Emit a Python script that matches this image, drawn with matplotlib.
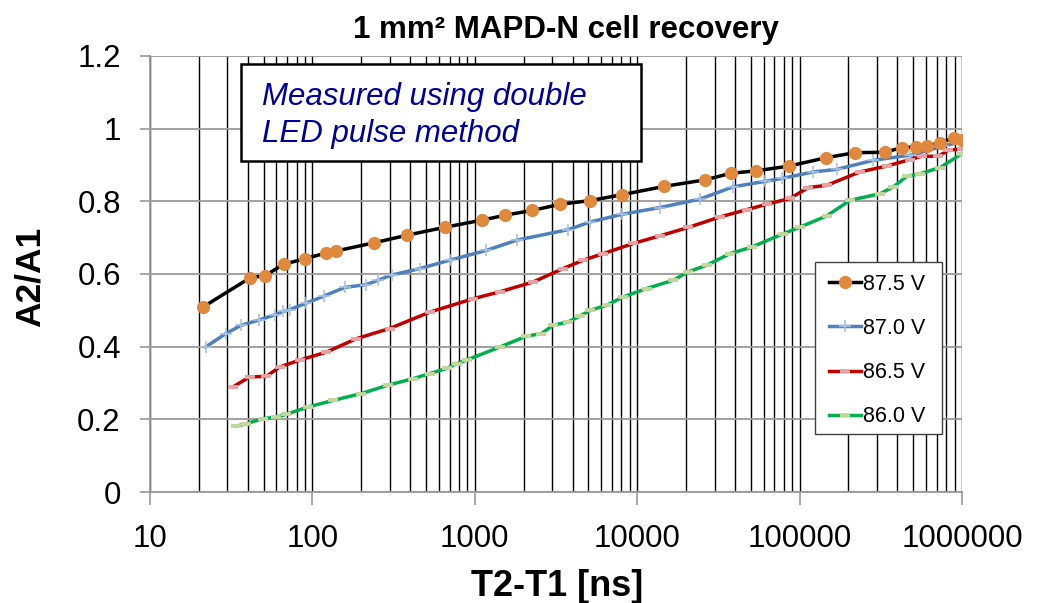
import matplotlib
matplotlib.use("Agg")
import matplotlib.pyplot as plt
from matplotlib.patches import Rectangle
from matplotlib.ticker import LogLocator, FixedLocator, NullFormatter, FixedFormatter

plt.rcParams["font.family"] = ["Liberation Sans", "DejaVu Sans"]

# ---- data -------------------------------------------------------------
x_875 = [21.2, 41.5, 50.8, 66.8, 89.8, 122, 139, 240, 385, 660, 1100, 1545,
         2255, 3370, 5120, 8020, 14600, 26100, 37600, 53900, 86000, 145500,
         219500, 335700, 425000, 521000, 606000, 732000, 894000, 997000]
y_875 = [0.509, 0.590, 0.595, 0.627, 0.642, 0.658, 0.663, 0.686, 0.707, 0.729,
         0.748, 0.762, 0.775, 0.792, 0.802, 0.818, 0.841, 0.859, 0.877, 0.884,
         0.897, 0.920, 0.934, 0.935, 0.948, 0.950, 0.952, 0.961, 0.975, 0.970]

x_870 = [22, 29.3, 36.5, 46.7, 59, 65.9, 72.5, 91.8, 117.5, 158, 215, 254, 307,
         459, 702, 1180, 1807, 3750, 5120, 8020, 13800, 24300, 39000, 61300,
         77600, 121600, 169400, 284700, 478600, 767000, 972000]
y_870 = [0.399, 0.436, 0.459, 0.473, 0.488, 0.497, 0.502, 0.520, 0.539, 0.563,
         0.571, 0.583, 0.597, 0.615, 0.638, 0.665, 0.693, 0.722, 0.743, 0.764,
         0.783, 0.806, 0.840, 0.855, 0.863, 0.881, 0.888, 0.913, 0.927, 0.952,
         0.963]

x_865 = [32.4, 41.1, 52, 62.8, 83.5, 122, 186.6, 299, 528, 977, 1427, 2287,
         3500, 4650, 6180, 9450, 13800, 20600, 32300, 47200, 62700, 87300,
         113300, 146900, 235500, 344000, 478600, 564700, 716000, 824000, 997000]
y_865 = [0.289, 0.317, 0.318, 0.344, 0.363, 0.385, 0.422, 0.450, 0.495, 0.532,
         0.551, 0.578, 0.615, 0.638, 0.656, 0.684, 0.705, 0.728, 0.757, 0.777,
         0.792, 0.808, 0.838, 0.844, 0.881, 0.897, 0.915, 0.924, 0.924, 0.941,
         0.944]

x_860 = [34, 39.2, 49.6, 60, 69.2, 94, 134, 200, 292, 417, 528, 670, 772, 889,
         1427, 2080, 2573, 3037, 3754, 4436, 5120, 6480, 8210, 11430, 16700,
         20600, 26800, 37200, 50700, 79400, 100500, 146900, 204800, 313300,
         378600, 457400, 552000, 732800, 997000]
y_860 = [0.181, 0.188, 0.202, 0.206, 0.214, 0.234, 0.252, 0.271, 0.294, 0.312,
         0.326, 0.340, 0.353, 0.363, 0.399, 0.429, 0.436, 0.459, 0.468, 0.484,
         0.500, 0.514, 0.537, 0.560, 0.583, 0.606, 0.624, 0.656, 0.674, 0.711,
         0.729, 0.760, 0.803, 0.821, 0.840, 0.869, 0.876, 0.893, 0.931]

series_labels = ["87.5 V", "87.0 V", "86.5 V", "86.0 V"]
x_ticks = [10, 100, 1000, 10000, 100000, 1000000]
x_tick_labels = ["10", "100", "1000", "10000", "100000", "1000000"]
y_ticks = [0, 0.2, 0.4, 0.6, 0.8, 1.0, 1.2]
y_tick_labels = ["0", "0.2", "0.4", "0.6", "0.8", "1", "1.2"]

title = "1 mm\u00b2 MAPD-N cell recovery"
x_label = "T2-T1 [ns]"
y_label = "A2/A1"
note_lines = ["Measured using double", "LED pulse method"]

# ---- layout helpers (pixel -> figure fraction) ---------------------------
W, H = 1043, 603
def fx(px):
    return px / W
def fy(py):
    return 1 - py / H

fig = plt.figure(figsize=(W / 100, H / 100), dpi=100)
ax = fig.add_axes([fx(150), fy(492), (962 - 150) / W, (492 - 56) / H])

# ---- series -----------------------------------------------------------
LW = 2.5
ax.plot(x_875, y_875, color="black", lw=LW, marker="o", ms=8.5,
        mfc="#E0883C", mec="#E0883C", label=series_labels[0], zorder=6)
ax.plot(x_870, y_870, color="#4F81BD", lw=LW, marker="+", ms=8,
        mew=1.2, mec="#A9C2E4", label=series_labels[1], zorder=5)
ax.plot(x_865, y_865, color="#C00000", lw=LW, marker="_", ms=7,
        mew=2.8, mec="#E6A3A3", label=series_labels[2], zorder=4)
ax.plot(x_860, y_860, color="#00B050", lw=LW, marker="_", ms=7,
        mew=2.8, mec="#C3D69B", label=series_labels[3], zorder=3)

# ---- axes -------------------------------------------------------------
ax.set_xscale("log")
ax.set_xlim(10, 1e6)
ax.set_ylim(0, 1.2)

ax.xaxis.set_major_locator(FixedLocator(x_ticks))
ax.xaxis.set_major_formatter(FixedFormatter(x_tick_labels))
ax.xaxis.set_minor_locator(LogLocator(base=10, subs=range(2, 10), numticks=20))
ax.xaxis.set_minor_formatter(NullFormatter())
ax.yaxis.set_major_locator(FixedLocator(y_ticks))
ax.yaxis.set_major_formatter(FixedFormatter(y_tick_labels))

grid_grey = "#9A9A9A"
ax.tick_params(axis="x", which="major", direction="out", length=9, width=1.2,
               color=grid_grey, labelsize=22.5, pad=14)
ax.tick_params(axis="x", which="minor", length=0)
ax.tick_params(axis="y", which="major", direction="out", length=7, width=1.2,
               color=grid_grey, labelsize=22.5, pad=14)

# vertical lines at every decade subdivision, horizontal lines at y ticks
ax.grid(True, axis="x", which="both", color="black", lw=1.0, zorder=1)
ax.grid(True, axis="y", which="major", color=grid_grey, lw=1.3, zorder=1)
ax.set_axisbelow(True)

for side in ("top", "right"):
    ax.spines[side].set_visible(False)
for side in ("left", "bottom"):
    ax.spines[side].set_color(grid_grey)
    ax.spines[side].set_linewidth(1.3)

# ---- labels -----------------------------------------------------------
fig.text(fx(566), fy(38), title, ha="center", va="baseline",
         fontsize=22.5, fontweight="bold")
fig.text(fx(557), fy(596), x_label, ha="center", va="baseline",
         fontsize=26, fontweight="bold")
fig.text(fx(30), fy(277), y_label, ha="center", va="center", rotation=90,
         fontsize=25.5, fontweight="bold")

# ---- annotation box ---------------------------------------------------
ax.add_patch(Rectangle((fx(241), fy(161)), fx(641) - fx(241), fy(64) - fy(161),
                       transform=fig.transFigure, facecolor="white",
                       edgecolor="black", lw=1.8, zorder=8, clip_on=False))
for line, base in zip(note_lines, (105, 142)):
    ax.text(fx(262), fy(base), line, transform=fig.transFigure,
            ha="left", va="baseline", fontsize=22.5, style="italic",
            color="#00009C", zorder=9)

# ---- legend (own frame so its size can be set directly) -----------------
ax.add_patch(Rectangle((fx(815), fy(434)), fx(942) - fx(815), fy(262) - fy(434),
                       transform=fig.transFigure, facecolor="white",
                       edgecolor="#404040", lw=1.0, zorder=10, clip_on=False))
leg = ax.legend(loc="upper left", bbox_to_anchor=(fx(829), fy(274)),
                bbox_transform=fig.transFigure, fontsize=15.5, frameon=False,
                handlelength=1.5, handletextpad=0.08, labelspacing=1.07,
                borderpad=0, borderaxespad=0, markerscale=1.0)
leg.set_zorder(11)

fig.savefig("out.png", dpi=100)
